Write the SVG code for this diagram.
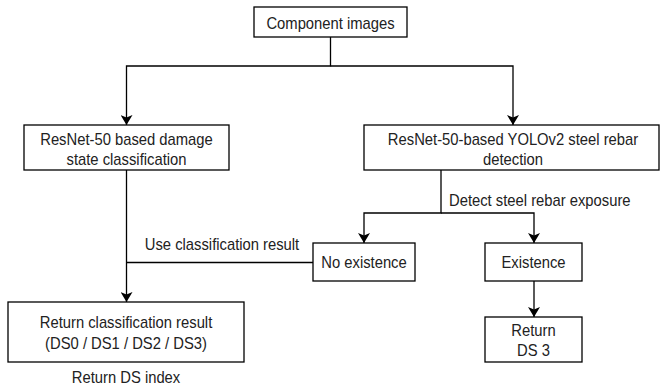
<svg xmlns="http://www.w3.org/2000/svg" width="660" height="388" viewBox="0 0 660 388">
<style>
.box{fill:#fff;stroke:#000;stroke-width:1.3}
.t{font-family:"Liberation Sans",Arial,sans-serif;font-size:17px;fill:#222;text-anchor:middle}
.l{text-anchor:start}
.c{fill:none;stroke:#000;stroke-width:1.3}
</style>
<defs>
<marker id="ah" markerUnits="userSpaceOnUse" markerWidth="10" markerHeight="12" viewBox="0 0 10 12" refX="10" refY="6" orient="auto">
<path d="M0,0 L10,6 L0,12 L2.5,6 z" fill="#000"/>
</marker>
</defs>
<g id="connectors">
<path class="c" d="M330.5,37 V66 H126.5 V125" marker-end="url(#ah)"/>
<path class="c" d="M330.5,66 H513 V125" marker-end="url(#ah)"/>
<path class="c" d="M441,170 V213 H364 V243" marker-end="url(#ah)"/>
<path class="c" d="M441,213 H534 V243" marker-end="url(#ah)"/>
<path class="c" d="M534,281 V317" marker-end="url(#ah)"/>
<path class="c" d="M126.5,170 V302" marker-end="url(#ah)"/>
<path class="c" d="M313,262.5 H126.5"/>
<text class="t l" transform="translate(449,206) scale(0.87 1)">Detect steel rebar exposure</text>
<text class="t" transform="translate(222,250) scale(0.87 1)">Use classification result</text>
</g>
<g id="component-images">
<rect class="box" x="254" y="7" width="153" height="30"/>
<text class="t" transform="translate(330.5,28.5) scale(0.87 1)">Component images</text>
</g>
<g id="damage-classification">
<rect class="box" x="24" y="125" width="205" height="45"/>
<text class="t" transform="translate(126.5,145) scale(0.87 1)">ResNet-50 based damage</text>
<text class="t" transform="translate(126.5,165) scale(0.87 1)">state classification</text>
</g>
<g id="rebar-detection">
<rect class="box" x="364" y="125" width="295" height="45"/>
<text class="t" transform="translate(513,145) scale(0.87 1)">ResNet-50-based YOLOv2 steel rebar</text>
<text class="t" transform="translate(513,165) scale(0.87 1)">detection</text>
</g>
<g id="no-existence">
<rect class="box" x="313" y="243" width="102" height="38"/>
<text class="t" transform="translate(364,268) scale(0.87 1)">No existence</text>
</g>
<g id="existence">
<rect class="box" x="485" y="243" width="97" height="38"/>
<text class="t" transform="translate(533.5,268) scale(0.87 1)">Existence</text>
</g>
<g id="return-ds3">
<rect class="box" x="485" y="317" width="97" height="45"/>
<text class="t" transform="translate(533.5,336) scale(0.87 1)">Return</text>
<text class="t" transform="translate(533.5,356) scale(0.87 1)">DS 3</text>
</g>
<g id="return-classification">
<rect class="box" x="8" y="302" width="236" height="60"/>
<text class="t" transform="translate(126,328) scale(0.87 1)">Return classification result</text>
<text class="t" transform="translate(126,349) scale(0.87 1)">(DS0 / DS1 / DS2 / DS3)</text>
<text class="t" transform="translate(126,383) scale(0.87 1)">Return DS index</text>
</g>
</svg>
